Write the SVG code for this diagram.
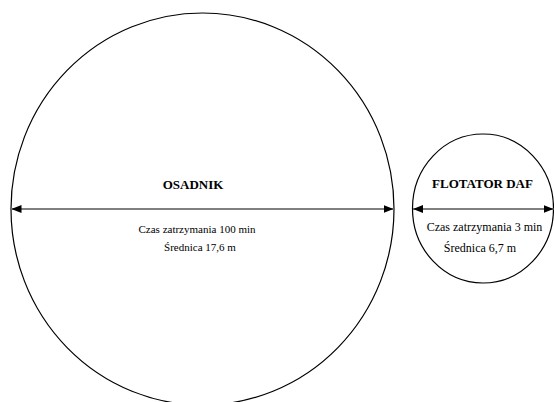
<svg xmlns="http://www.w3.org/2000/svg" width="554" height="402" viewBox="0 0 554 402">
<style>
.tank{fill:none;stroke:#000;stroke-width:1.2}
.dim{stroke:#808080;stroke-width:2.2;fill:none}
.title{font-family:"Liberation Serif",serif;font-weight:bold;font-size:13px;text-anchor:middle;fill:#000}
.txt{font-family:"Liberation Serif",serif;font-size:11px;text-anchor:middle;fill:#000}
</style>
<defs>
<marker id="ah" viewBox="0 0 10 8" refX="10" refY="4" markerWidth="10" markerHeight="8" markerUnits="userSpaceOnUse" orient="auto-start-reverse">
<path d="M0,0 L10,4 L0,8 Z" fill="#000"/>
</marker>
</defs>
<rect width="554" height="402" fill="#fff"/>
<g id="osadnik">
<ellipse class="tank" cx="202.5" cy="209" rx="191.5" ry="196"/>
<text class="title" x="193" y="189">OSADNIK</text>
<text class="txt" x="197" y="233">Czas zatrzymania 100 min</text>
<text class="txt" x="200" y="251">Średnica 17,6 m</text>
</g>
<g id="flotator">
<ellipse class="tank" cx="483" cy="208.5" rx="70.5" ry="74.5"/>
<text class="title" x="482.5" y="188">FLOTATOR DAF</text>
<text class="txt" x="484.5" y="231" style="font-size:12px">Czas zatrzymania 3 min</text>
<text class="txt" x="480" y="252" style="font-size:12px">Średnica 6,7 m</text>
</g>
<g id="connectors">
<line class="dim" x1="11.5" y1="209" x2="393.5" y2="209" marker-start="url(#ah)" marker-end="url(#ah)"/>
<line class="dim" x1="413" y1="209" x2="553.5" y2="209" marker-start="url(#ah)" marker-end="url(#ah)"/>
</g>
</svg>
